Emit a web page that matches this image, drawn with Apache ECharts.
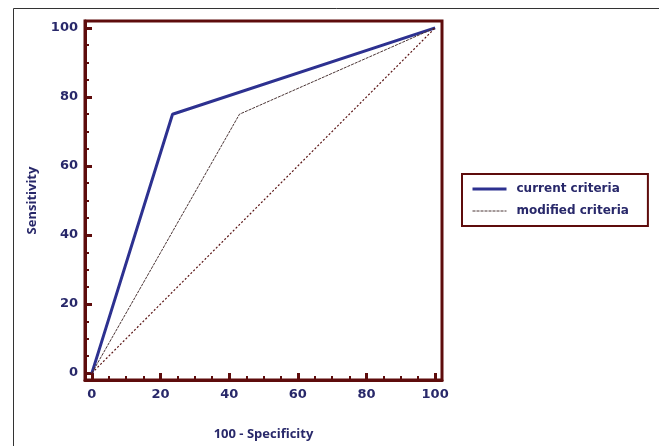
<!DOCTYPE html>
<html><head><meta charset="utf-8">
<script src="https://cdn.jsdelivr.net/npm/echarts@6/dist/echarts.min.js"></script>
<style>html,body{margin:0;padding:0;background:#fff}#c{width:659px;height:446px}</style>
</head><body><div id="c"></div>
<script>
const seriesNames = ['current criteria', 'modified criteria'];
const currentX = [0, 23.5, 100];
const currentY = [0, 75, 100];
const modifiedX = [0, 43, 100];
const modifiedY = [0, 75, 100];
const diagX = [0, 100];
const diagY = [0, 100];
const majorTicks = [0, 20, 40, 60, 80, 100];
const minorTicks = [5, 10, 15, 25, 30, 35, 45, 50, 55, 65, 70, 75, 85, 90, 95];

const pts = (xs, ys) => xs.map((x, i) => [x, ys[i]]);
const frame = '#5e0c0c';
const navy = '#28286a';
const font = '"Open Sans", "DejaVu Sans", sans-serif';
const tfont = '"DejaVu Sans", sans-serif';

const baseAxis = (extra) => Object.assign({
  type: 'value', min: -2, max: 102,
  splitLine: { show: false },
  axisLine: { show: true, onZero: false, lineStyle: { color: frame, width: 3 } },
  axisTick: { show: true, inside: true, length: 7, lineStyle: { color: frame, width: 3 }, customValues: majorTicks },
  axisLabel: { customValues: majorTicks, color: navy, fontWeight: 'bold', fontSize: 13, fontFamily: tfont, margin: 7 }
}, extra);
const minorAxis = (extra) => Object.assign({
  type: 'value', min: -2, max: 102,
  splitLine: { show: false },
  axisLine: { show: false, onZero: false },
  axisTick: { show: true, inside: true, length: 4, lineStyle: { color: frame, width: 2 }, customValues: minorTicks },
  axisLabel: { show: false }
}, extra);

const chart = echarts.init(document.getElementById('c'));
chart.setOption({
  animation: false,
  backgroundColor: '#fff',
  graphic: [{ type: 'rect', shape: { x: 13.5, y: 8.5, width: 700, height: 500 }, style: { fill: 'none', stroke: '#333', lineWidth: 1 }, silent: true }],
  grid: { left: 85, top: 21, width: 357, height: 359, show: true, borderColor: frame, borderWidth: 3 },
  xAxis: [
    baseAxis({ position: 'bottom', name: '100 - Specificity', nameLocation: 'middle', nameGap: 48,
      nameTextStyle: { color: navy, fontWeight: 'bold', fontSize: 13, fontFamily: font },
      axisLabel: { customValues: majorTicks, color: navy, fontWeight: 'bold', fontSize: 13, fontFamily: tfont, margin: 8 } }),
    minorAxis({ position: 'bottom' })
  ],
  yAxis: [
    baseAxis({ position: 'left', name: 'Sensitivity', nameLocation: 'middle', nameGap: 46,
      nameTextStyle: { color: navy, fontWeight: 'bold', fontSize: 13, fontFamily: font } }),
    minorAxis({ position: 'left' })
  ],
  legend: {
    data: [
      { name: seriesNames[0], lineStyle: { width: 3 } },
      { name: seriesNames[1], lineStyle: { width: 1 } }
    ],
    orient: 'vertical', left: 462, top: 174,
    padding: [9, 19, 9, 9], itemGap: 10, itemWidth: 34, itemHeight: 12,
    borderColor: frame, borderWidth: 2,
    itemStyle: { opacity: 0 },
    textStyle: { color: navy, fontWeight: 'bold', fontSize: 12, fontFamily: tfont, padding: [0, 0, 0, 5] }
  },
  series: [
    { name: seriesNames[0], type: 'line', data: pts(currentX, currentY), symbol: 'none',
      lineStyle: { color: '#2d3190', width: 3 }, itemStyle: { color: '#2d3190' } },
    { name: seriesNames[1], type: 'line', data: pts(modifiedX, modifiedY), symbol: 'none',
      lineStyle: { color: '#4a3434', width: 1, type: [3, 1] }, itemStyle: { color: '#4a3434' } },
    { name: 'reference', type: 'line', data: pts(diagX, diagY), symbol: 'none',
      lineStyle: { color: '#5a1414', width: 1.2, type: [2, 2] } }
  ]
});
</script></body></html>
